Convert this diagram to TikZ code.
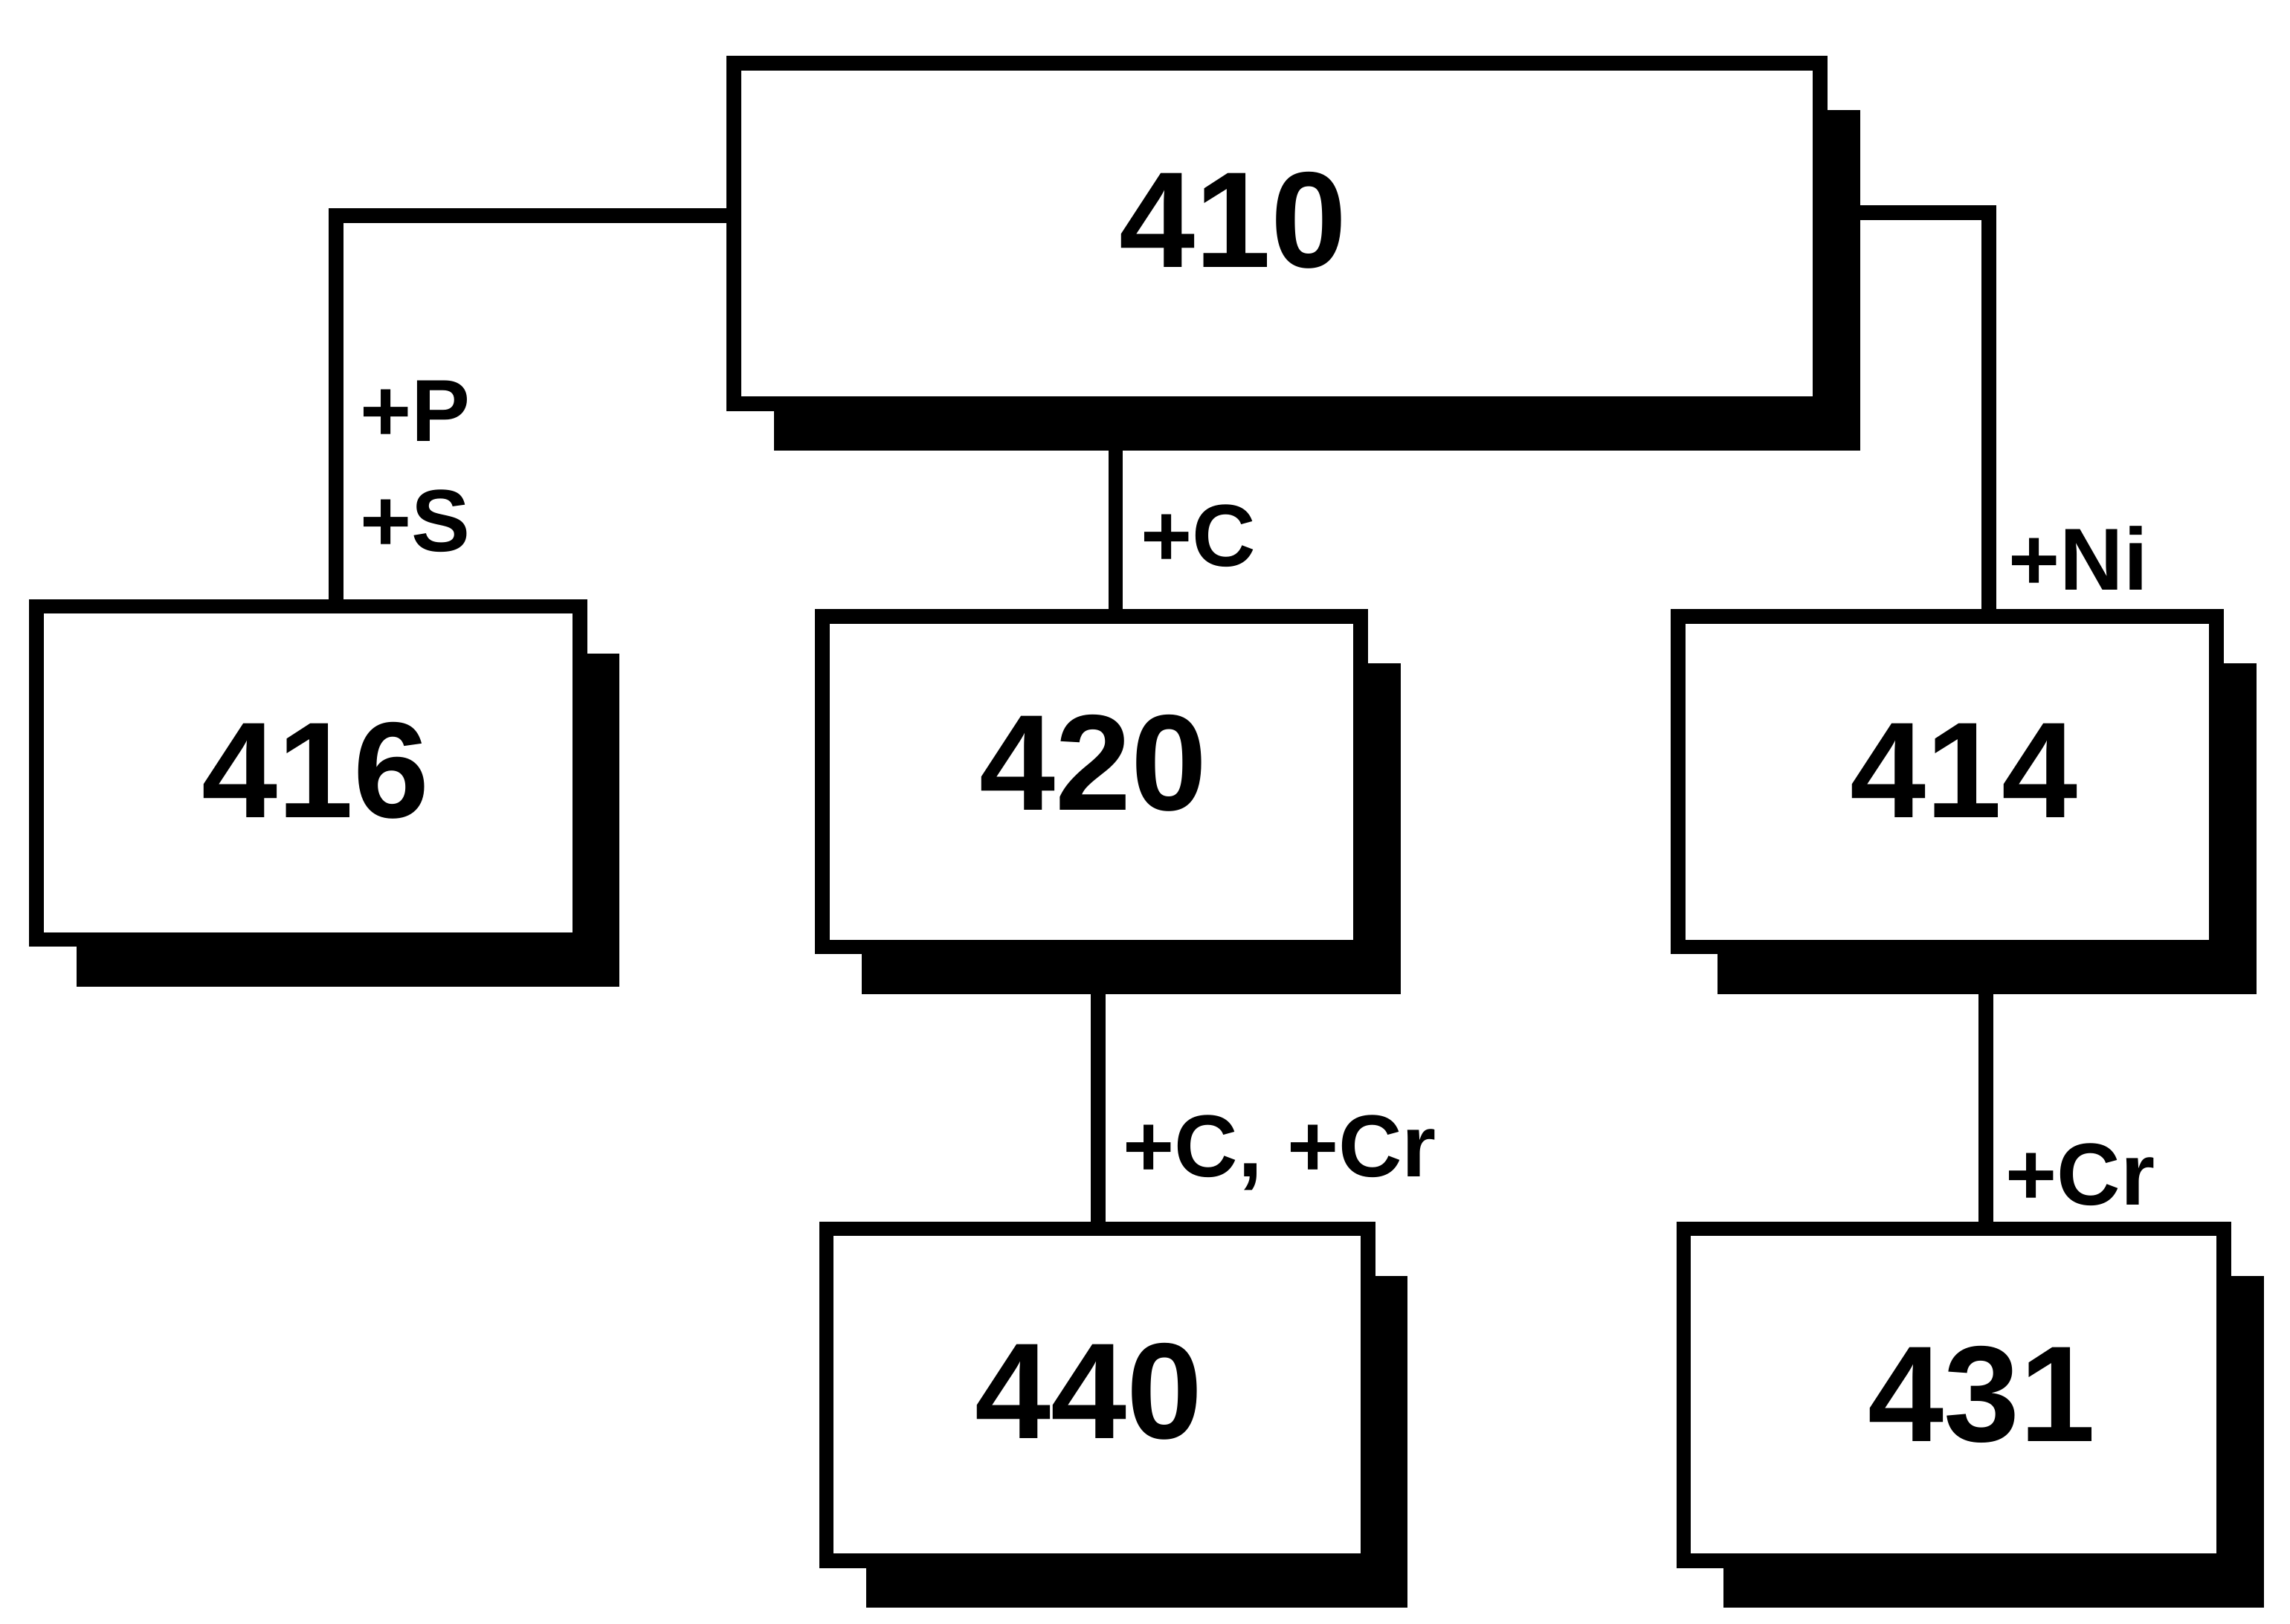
\documentclass[tikz,border=0pt]{standalone}
\usepackage{fontspec}
\setmainfont{Liberation Sans}
\usetikzlibrary{shadows,backgrounds}
\begin{document}
\begin{tikzpicture}[x=1pt,y=-1pt,
  box/.style={draw=black,fill=white,line width=10pt,inner sep=0pt,
    drop shadow={shadow xshift=27pt,shadow yshift=-32pt,opacity=1,fill=black}},
  num/.style={inner sep=0pt,font=\fontsize{93}{96}\selectfont\bfseries},
  lab/.style={anchor=west,inner sep=0pt,font=\fontsize{60}{64}\selectfont\bfseries},
  conn/.style={line width=10pt}]
\useasboundingbox (0,0) rectangle (1560,1106);
\node[box,minimum width=740pt,minimum height=232pt] (b410) at (870,159) {};
\node[box,minimum width=370pt,minimum height=227pt] (b416) at (210,526.5) {};
\node[box,minimum width=367pt,minimum height=225pt] (b420) at (743.5,532.5) {};
\node[box,minimum width=367pt,minimum height=225pt] (b414) at (1326.5,532.5) {};
\node[box,minimum width=369pt,minimum height=226pt] (b440) at (747.5,950) {};
\node[box,minimum width=368pt,minimum height=226pt] (b431) at (1331,950) {};
\node[num] (t410) at (840,150) {410};
\node[num] (t416) at (215,525) {416};
\node[num] (t420) at (745,520) {420};
\node[num] (t414) at (1338,525) {414};
\node[num] (t440) at (742,948) {440};
\node[num] (t431) at (1350,950) {431};
\begin{scope}[on background layer]
\draw[conn] ([yshift=12pt]b410.west) -| ([xshift=19pt]b416.north);
\draw[conn] ([yshift=14pt]b410.east) -| ([xshift=28.5pt]b414.north);
\draw[conn] ([xshift=-110pt]b410.south) -- ([xshift=-110pt]b410.south |- b420.north);
\draw[conn] ([xshift=4.5pt]b420.south) -- ([xshift=4.5pt]b420.south |- b440.north);
\draw[conn] ([xshift=26.5pt]b414.south) -- ([xshift=26.5pt]b414.south |- b431.north);
\end{scope}
\node[lab] (lp) at (245,280) {+P};
\node[lab] (ls) at (245,355) {+S};
\node[lab] (lc) at (777,365) {+C};
\node[lab] (lni) at (1368,380) {+Ni};
\node[lab] (lccr) at (765,785) {+C, +Cr};
\node[lab] (lcr) at (1366,800) {+Cr};
\end{tikzpicture}
\end{document}
